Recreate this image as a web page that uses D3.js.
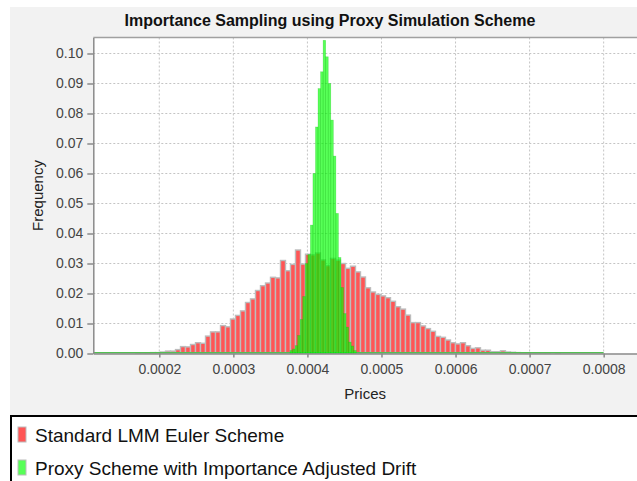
<!DOCTYPE html>
<html lang="en">
  <head>
    <meta charset="utf-8">
    <title>Importance Sampling using Proxy Simulation Scheme</title>
    <style>
      body { margin: 0; background: #fff; }
      svg { display: block; font-family: "Liberation Sans", Arial, sans-serif; }
      .grid line { stroke: #c4c4c4; stroke-width: 1; stroke-dasharray: 2,2; }
      .axis path, .axis line { stroke: #8a8a8a; stroke-width: 1.5; }
      .axis text { fill: #444; font-size: 14px; }
    </style>
  </head>
  <body>
    <svg width="637" height="481"></svg>
    <script src="https://d3js.org/d3.v7.min.js"></script>
    <script>
var title = 'Importance Sampling using Proxy Simulation Scheme';
var xLabel = 'Prices';
var yLabel = 'Frequency';
var seriesNames = ['Standard LMM Euler Scheme', 'Proxy Scheme with Importance Adjusted Drift'];

var xTicks = [0.0002, 0.0003, 0.0004, 0.0005, 0.0006, 0.0007, 0.0008];
var yTicks = [0, 0.01, 0.02, 0.03, 0.04, 0.05, 0.06, 0.07, 0.08, 0.09, 0.10];
var xDomain = [0.0001109, 0.000845];
var yDomain = [0, 0.10533];

// standard Euler scheme histogram
var redStart = 0.0001679;
var redBin = 0.00000675;
var redFreq = [
  0.0001, 0.0001, 0.0002, 0.0003, 0.0003, 0.0005, 0.0008, 0.0008, 0.0013, 0.0023,
  0.0022, 0.0030, 0.0036, 0.0034, 0.0058, 0.0072, 0.0072, 0.0093, 0.0089, 0.0115,
  0.0127, 0.0142, 0.0170, 0.0182, 0.0210, 0.0226, 0.0235, 0.0254, 0.0252, 0.0310,
  0.0276, 0.0297, 0.0345, 0.0298, 0.0331, 0.0329, 0.0335, 0.0312, 0.0293, 0.0317,
  0.0311, 0.0300, 0.0284, 0.0291, 0.0272, 0.0255, 0.0219, 0.0205, 0.0197, 0.0192,
  0.0186, 0.0174, 0.0156, 0.0148, 0.0128, 0.0103, 0.0103, 0.0092, 0.0083, 0.0074,
  0.0057, 0.0054, 0.0045, 0.0036, 0.0032, 0.0036, 0.0026, 0.0017, 0.0019, 0.0011,
  0.0011, 0.0006, 0.0006, 0.0009, 0.0005, 0.0004, 0.0003, 0.0002, 0.0002, 0.0001,
  0.0001, 0.0001, 0.0001, 0.0000, 0.0001, 0.0000, 0.0000
];

// proxy scheme histogram
var greenStart = 0.0003765;
var greenBin = 0.00000344;
var greenFreq = [
  0.0010, 0.0015, 0.0026, 0.0060, 0.0113, 0.0190, 0.0300, 0.0330, 0.0428, 0.0600,
  0.0755, 0.0883, 0.0939, 0.1044, 0.0989, 0.0900, 0.0778, 0.0658, 0.0467, 0.0320,
  0.0220, 0.0133, 0.0088, 0.0038, 0.0025, 0.0010
];
var greenSpan = [0.0001109, 0.000800];

var redFill = '#ff5555';
var greenFill = 'rgba(0, 255, 0, 0.66)';

var svg = d3.select('svg');

var plot = { left: 93.3, right: 637, top: 37.5, bottom: 353.5 };

var x = d3.scaleLinear().domain(xDomain).range([plot.left, plot.right]);
var y = d3.scaleLinear().domain(yDomain).range([plot.bottom, plot.top]);

// chart panel
svg.append('rect')
  .attr('x', 10).attr('y', 7)
  .attr('width', 640).attr('height', 409)
  .attr('fill', '#f2f2f2');

svg.append('text')
  .attr('x', 330).attr('y', 26)
  .attr('text-anchor', 'middle')
  .attr('font-size', 16)
  .attr('font-weight', 'bold')
  .attr('fill', '#111')
  .text(title);

svg.append('defs').append('clipPath').attr('id', 'clip')
  .append('rect')
  .attr('x', plot.left).attr('y', plot.top)
  .attr('width', plot.right - plot.left).attr('height', plot.bottom - plot.top);

svg.append('rect')
  .attr('x', plot.left).attr('y', plot.top)
  .attr('width', plot.right - plot.left).attr('height', plot.bottom - plot.top)
  .attr('fill', '#fff');

var grid = svg.append('g').attr('class', 'grid');
grid.selectAll('.gx')
  .data(xTicks)
  .enter()
  .append('line')
  .attr('x1', function(d) { return x(d); })
  .attr('x2', function(d) { return x(d); })
  .attr('y1', plot.top)
  .attr('y2', plot.bottom);
grid.selectAll('.gy')
  .data(yTicks.slice(1))
  .enter()
  .append('line')
  .attr('x1', plot.left)
  .attr('x2', plot.right)
  .attr('y1', function(d) { return y(d); })
  .attr('y2', function(d) { return y(d); });

var bars = svg.append('g').attr('clip-path', 'url(#clip)');

bars.append('g')
  .selectAll('rect')
  .data(redFreq)
  .enter()
  .append('rect')
  .attr('x', function(d, i) { return x(redStart + i * redBin); })
  .attr('width', function(d, i) { return x(redStart + (i + 1) * redBin) - x(redStart + i * redBin); })
  .attr('y', function(d) { return y(d); })
  .attr('height', function(d) { return y(0) - y(d); })
  .attr('fill', redFill)
  .attr('stroke', '#bcbcbc')
  .attr('stroke-width', 1.4);

bars.append('line')
  .attr('x1', x(greenSpan[0]))
  .attr('x2', x(greenSpan[1]))
  .attr('y1', y(0) - 0.5)
  .attr('y2', y(0) - 0.5)
  .attr('stroke', '#52c052')
  .attr('stroke-width', 2);

bars.append('g')
  .selectAll('rect')
  .data(greenFreq)
  .enter()
  .append('rect')
  .attr('x', function(d, i) { return x(greenStart + i * greenBin); })
  .attr('width', function(d, i) { return x(greenStart + (i + 1) * greenBin) - x(greenStart + i * greenBin); })
  .attr('y', function(d) { return y(d); })
  .attr('height', function(d) { return y(0) - y(d); })
  .attr('fill', greenFill)
  .attr('stroke', 'rgba(0, 180, 0, 0.35)')
  .attr('stroke-width', 0.6);

// plot frame (top edge)
svg.append('line')
  .attr('x1', plot.left).attr('x2', plot.right)
  .attr('y1', plot.top).attr('y2', plot.top)
  .attr('stroke', '#a0a0a0')
  .attr('stroke-width', 1.5);

svg.append('g')
  .attr('class', 'axis')
  .attr('transform', 'translate(0,' + plot.bottom + ')')
  .call(d3.axisBottom(x)
    .tickValues(xTicks)
    .tickSize(4)
    .tickSizeOuter(0)
    .tickPadding(7)
    .tickFormat(d3.format('.4f')));

svg.append('g')
  .attr('class', 'axis')
  .attr('transform', 'translate(' + plot.left + ',0)')
  .call(d3.axisLeft(y)
    .tickValues(yTicks)
    .tickSize(6)
    .tickSizeOuter(0)
    .tickPadding(4)
    .tickFormat(d3.format('.2f')));

svg.selectAll('.axis .domain').attr('stroke', '#8a8a8a');

svg.append('text')
  .attr('x', (plot.left + plot.right) / 2)
  .attr('y', 399)
  .attr('text-anchor', 'middle')
  .attr('font-size', 15)
  .attr('fill', '#222')
  .text(xLabel);

svg.append('text')
  .attr('transform', 'translate(43,' + (plot.top + plot.bottom) / 2 + ') rotate(-90)')
  .attr('text-anchor', 'middle')
  .attr('font-size', 15)
  .attr('fill', '#222')
  .text(yLabel);

// legend
var legend = svg.append('g');
legend.append('rect')
  .attr('x', 11).attr('y', 416)
  .attr('width', 640).attr('height', 90)
  .attr('fill', '#fff')
  .attr('stroke', '#000')
  .attr('stroke-width', 2);

var item = legend.selectAll('.item')
  .data(seriesNames)
  .enter()
  .append('g')
  .attr('transform', function(d, i) { return 'translate(0,' + (i * 33) + ')'; });

item.append('rect')
  .attr('x', 18).attr('y', 427)
  .attr('width', 8).attr('height', 15)
  .attr('fill', function(d, i) { return i === 0 ? redFill : greenFill; })
  .attr('stroke', '#bcbcbc')
  .attr('stroke-width', 1);

item.append('text')
  .attr('x', 35).attr('y', 442)
  .attr('font-size', 19)
  .attr('fill', '#111')
  .text(function(d) { return d; });
    </script>
  </body>
</html>
